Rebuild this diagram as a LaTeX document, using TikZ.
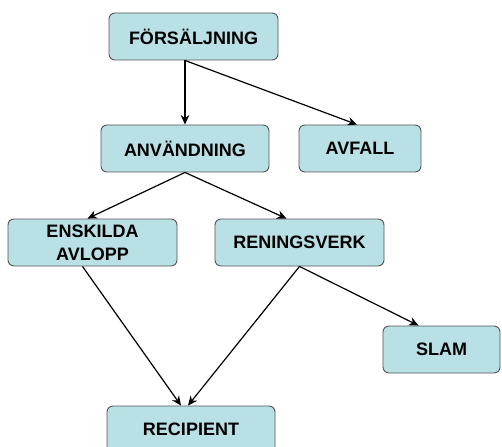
\documentclass[tikz,border=0pt]{standalone}
\usepackage{fontspec}
\setmainfont{Liberation Sans}
\usepackage{xcolor}
\usepackage{tikz}
\usetikzlibrary{arrows.meta}
\definecolor{boxfill}{HTML}{B9E0E4}
\definecolor{boxline}{HTML}{555555}

\begin{document}
\begin{tikzpicture}[
          x=1pt, y=-1pt,
          every node/.style={rectangle, rounded corners=6pt, draw=boxline, fill=boxfill, line width=0.9pt,
            minimum height=47pt, inner sep=0pt, align=center, font=\fontsize{18}{23}\selectfont\bfseries},
          flow/.style={-{Stealth[length=9.5pt, width=8.5pt]}, line width=1.2pt}
        ]
          \clip (0,0) rectangle (502,446);
          \node[minimum width=169pt] (forsaljning) at (193.5,36.5) {FÖRSÄLJNING};
          \node[minimum width=168pt] (anvandning) at (185,148.5) {ANVÄNDNING};
          \node[minimum width=122pt] (avfall) at (360,148.5) {AVFALL};
          \node[minimum width=169pt] (enskilda) at (92.5,242.5) {ENSKILDA\\AVLOPP};
          \node[minimum width=169pt] (reningsverk) at (299.5,242.5) {RENINGSVERK};
          \node[minimum width=117pt] (slam) at (441.5,349.5) {SLAM};
          \node[minimum width=168pt] (recipient) at (191,429.5) {RECIPIENT};

          \draw[flow] (forsaljning.south -| anvandning.north) -- (anvandning.north);
          \draw[flow] (forsaljning.south -| anvandning.north) -- ([xshift=-3pt]avfall.north);
          \draw[flow] (anvandning.south) -- ([xshift=-5pt]enskilda.north);
          \draw[flow] (anvandning.south) -- ([xshift=-13pt]reningsverk.north);
          \draw[flow] ([xshift=-10pt]enskilda.south) -- ([xshift=-10pt]recipient.north);
          \draw[flow] (reningsverk.south) -- ([xshift=-3pt]recipient.north);
          \draw[flow] (reningsverk.south) -- ([xshift=-23pt]slam.north);
        \end{tikzpicture}
\end{document}
